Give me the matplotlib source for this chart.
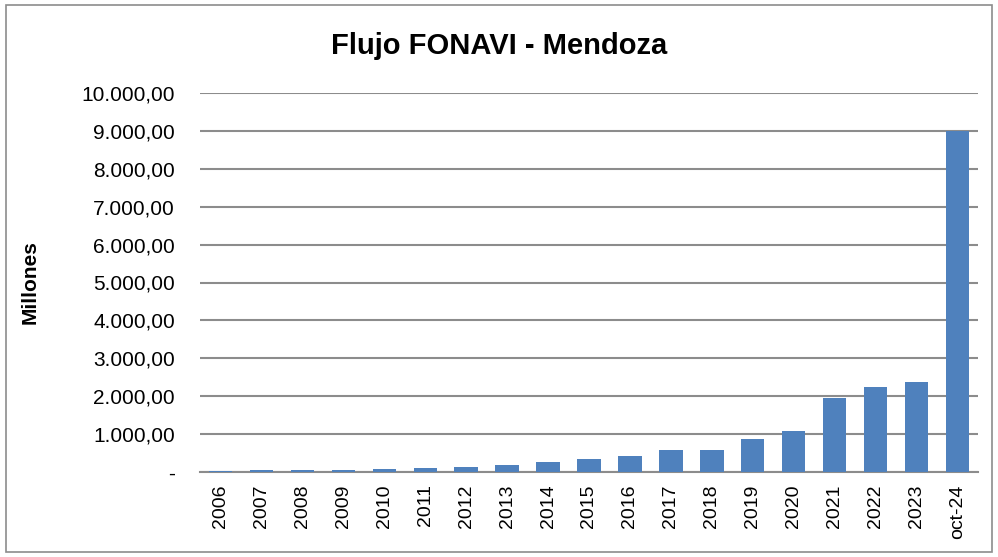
import matplotlib.pyplot as plt
from matplotlib.patches import Rectangle
from matplotlib.ticker import FuncFormatter

plt.rcParams["font.family"] = ["Liberation Sans", "DejaVu Sans"]

years = ["2006", "2007", "2008", "2009", "2010", "2011", "2012", "2013", "2014",
         "2015", "2016", "2017", "2018", "2019", "2020", "2021", "2022", "2023", "oct-24"]
flujo = [25, 40, 40, 60, 85, 100, 140, 190, 270,
         340, 420, 580, 590, 870, 1080, 1960, 2250, 2375, 9000]


def fmt_es(v, pos):
    # formato argentino: punto de miles, coma decimal
    if v == 0:
        return "-"
    s = f"{v:,.2f}"
    return s.replace(",", "X").replace(".", ",").replace("X", ".")


fig = plt.figure(figsize=(9.98, 5.57), dpi=100)
ax = fig.add_axes([200 / 998, 1 - 472 / 557, 778 / 998, 379 / 557])

x = range(len(years))
ax.bar(x, flujo, width=0.57, color="#4F81BD", zorder=3)
ax.set_xlim(-0.5, len(years) - 0.5)
ax.set_ylim(0, 10000)
ax.set_yticks(range(0, 10001, 1000))
ax.yaxis.set_major_formatter(FuncFormatter(fmt_es))
ax.set_xticks(list(x))
ax.set_xticklabels(years, rotation=90)
ax.tick_params(axis="both", length=0, colors="black")
ax.tick_params(axis="y", pad=18, labelsize=15)
ax.tick_params(axis="x", pad=9, labelsize=14)
ax.grid(axis="y", color="#8c8c8c", linewidth=1.5, zorder=0)
for s in ["top", "right", "left"]:
    ax.spines[s].set_visible(False)
ax.spines["bottom"].set_color("#8c8c8c")
ax.spines["bottom"].set_linewidth(1.5)

ax.set_ylabel("Millones", fontsize=15, fontweight="bold")
ax.yaxis.set_label_coords(-0.206, 0.5)
fig.text(0.5, 1 - 46 / 557, "Flujo FONAVI - Mendoza", ha="center", va="center",
         fontsize=21, fontweight="bold")

fig.patches.append(Rectangle((6 / 998, 5 / 557), 986 / 998, 547 / 557,
                             transform=fig.transFigure, fill=False,
                             edgecolor="#8c8c8c", linewidth=1.2))

fig.savefig("out.png", dpi=100)
